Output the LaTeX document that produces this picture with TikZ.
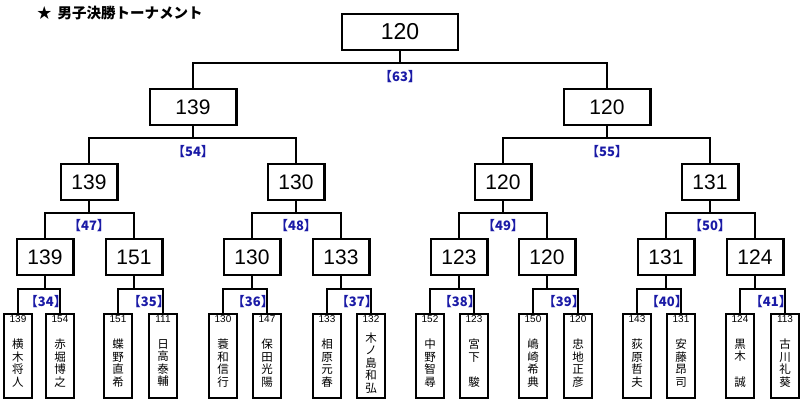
\documentclass[tikz,border=0pt]{standalone}
\usepackage{fontspec}
\setmainfont{Liberation Sans}
\newfontfamily\jpfont{Noto Sans CJK JP}
\usetikzlibrary{positioning}
\definecolor{matchblue}{HTML}{1A1AA6}

\begin{document}
\begin{tikzpicture}[x=1pt,y=-1pt,
  rbox/.style={rectangle,draw=black,line width=2.2pt,minimum height=35.8pt,inner sep=0pt,font=\fontsize{21}{23}\selectfont},
  pbox/.style={rectangle,draw=black,line width=2.2pt,minimum width=27.8pt,minimum height=84pt,inner sep=0pt},
  pnum/.style={inner sep=0pt,font=\fontsize{10}{10}\selectfont},
  pname/.style={align=center,inner sep=0pt,yshift=-7pt,font=\jpfont\fontsize{11.5}{12.6}\selectfont},
  mno/.style={inner sep=0pt,text=matchblue,font=\jpfont\bfseries\fontsize{13}{13}\selectfont},
  wire/.style={line width=1.7pt}]
\useasboundingbox (0,0) rectangle (800,402);
% \draw[help lines,step=50] (0,0) grid (800,402);
\node (title) [anchor=west,inner sep=0pt,font=\jpfont\bfseries\fontsize{14.5}{14.5}\selectfont] at (37,13.5) {★\hspace{6pt}男子決勝トーナメント};
%
\node (f) [rbox,minimum width=115.8pt,font=\fontsize{23}{25}\selectfont] at (400,32) {120};
\node (a1) [rbox,minimum width=86.8pt] at (193,107) {139};
\node (a2) [rbox,minimum width=86.8pt] at (607,107) {120};
\node (b1) [rbox,minimum width=56.8pt] at (89,182) {139};
\node (b2) [rbox,minimum width=56.8pt] at (296,182) {130};
\node (b3) [rbox,minimum width=56.8pt] at (503,182) {120};
\node (b4) [rbox,minimum width=56.8pt] at (710,182) {131};
\node (c1) [rbox,minimum width=56.8pt] at (45,257) {139};
\node (c2) [rbox,minimum width=56.8pt] at (134,257) {151};
\node (c3) [rbox,minimum width=56.8pt] at (252,257) {130};
\node (c4) [rbox,minimum width=56.8pt] at (341,257) {133};
\node (c5) [rbox,minimum width=56.8pt] at (459,257) {123};
\node (c6) [rbox,minimum width=56.8pt] at (547,257) {120};
\node (c7) [rbox,minimum width=56.8pt] at (666,257) {131};
\node (c8) [rbox,minimum width=56.8pt] at (755,257) {124};
%
\node (p1) [pbox] at (18,356) {};
\node (p2) [pbox] at (60,356) {};
\node (p3) [pbox] at (118,356) {};
\node (p4) [pbox] at (163,356) {};
\node (p5) [pbox] at (223,356) {};
\node (p6) [pbox] at (267,356) {};
\node (p7) [pbox] at (327,356) {};
\node (p8) [pbox] at (371,356) {};
\node (p9) [pbox] at (430,356) {};
\node (p10) [pbox] at (474,356) {};
\node (p11) [pbox] at (533,356) {};
\node (p12) [pbox] at (578,356) {};
\node (p13) [pbox] at (637,356) {};
\node (p14) [pbox] at (681,356) {};
\node (p15) [pbox] at (740,356) {};
\node (p16) [pbox] at (785,356) {};
%
\node (n1) [pnum,below=2.5pt of p1.north] {139};
\node (n2) [pnum,below=2.5pt of p2.north] {154};
\node (n3) [pnum,below=2.5pt of p3.north] {151};
\node (n4) [pnum,below=2.5pt of p4.north] {111};
\node (n5) [pnum,below=2.5pt of p5.north] {130};
\node (n6) [pnum,below=2.5pt of p6.north] {147};
\node (n7) [pnum,below=2.5pt of p7.north] {133};
\node (n8) [pnum,below=2.5pt of p8.north] {132};
\node (n9) [pnum,below=2.5pt of p9.north] {152};
\node (n10) [pnum,below=2.5pt of p10.north] {123};
\node (n11) [pnum,below=2.5pt of p11.north] {150};
\node (n12) [pnum,below=2.5pt of p12.north] {120};
\node (n13) [pnum,below=2.5pt of p13.north] {143};
\node (n14) [pnum,below=2.5pt of p14.north] {131};
\node (n15) [pnum,below=2.5pt of p15.north] {124};
\node (n16) [pnum,below=2.5pt of p16.north] {113};
%
\node (m1) [pname] at (p1) {横\\木\\将\\人};
\node (m2) [pname] at (p2) {赤\\堀\\博\\之};
\node (m3) [pname] at (p3) {蝶\\野\\直\\希};
\node (m4) [pname] at (p4) {日\\高\\泰\\輔};
\node (m5) [pname] at (p5) {蓑\\和\\信\\行};
\node (m6) [pname] at (p6) {保\\田\\光\\陽};
\node (m7) [pname] at (p7) {相\\原\\元\\春};
\node (m8) [pname] at (p8) {木\\ノ\\島\\和\\弘};
\node (m9) [pname] at (p9) {中\\野\\智\\尋};
\node (m10) [pname] at (p10) {宮\\下\\　\\駿};
\node (m11) [pname] at (p11) {嶋\\崎\\希\\典};
\node (m12) [pname] at (p12) {忠\\地\\正\\彦};
\node (m13) [pname] at (p13) {荻\\原\\哲\\夫};
\node (m14) [pname] at (p14) {安\\藤\\昂\\司};
\node (m15) [pname] at (p15) {黒\\木\\　\\誠};
\node (m16) [pname] at (p16) {古\\川\\礼\\葵};
%
\coordinate (j63) at (400,63);
\coordinate (j54) at (193,138);
\coordinate (j55) at (607,138);
\coordinate (j47) at (89,213);
\coordinate (j48) at (296,213);
\coordinate (j49) at (503,213);
\coordinate (j50) at (710,213);
\coordinate (j34) at (45,289);
\coordinate (j35) at (134,289);
\coordinate (j36) at (252,289);
\coordinate (j37) at (341,289);
\coordinate (j38) at (459,289);
\coordinate (j39) at (547,289);
\coordinate (j40) at (666,289);
\coordinate (j41) at (755,289);
%
\draw[wire] (f.south) -- (j63);
\draw[wire] (a1.north) |- (j63) -| (a2.north);
\draw[wire] (a1.south) -- (j54);
\draw[wire] (b1.north) |- (j54) -| (b2.north);
\draw[wire] (a2.south) -- (j55);
\draw[wire] (b3.north) |- (j55) -| (b4.north);
\draw[wire] (b1.south) -- (j47);
\draw[wire] (c1.north) |- (j47) -| (c2.north);
\draw[wire] (b2.south) -- (j48);
\draw[wire] (c3.north) |- (j48) -| (c4.north);
\draw[wire] (b3.south) -- (j49);
\draw[wire] (c5.north) |- (j49) -| (c6.north);
\draw[wire] (b4.south) -- (j50);
\draw[wire] (c7.north) |- (j50) -| (c8.north);
\draw[wire] (c1.south) -- (j34);
\draw[wire] (p1.north) |- (j34) -| (p2.north);
\draw[wire] (c2.south) -- (j35);
\draw[wire] (p3.north) |- (j35) -| (p4.north);
\draw[wire] (c3.south) -- (j36);
\draw[wire] (p5.north) |- (j36) -| (p6.north);
\draw[wire] (c4.south) -- (j37);
\draw[wire] (p7.north) |- (j37) -| (p8.north);
\draw[wire] (c5.south) -- (j38);
\draw[wire] (p9.north) |- (j38) -| (p10.north);
\draw[wire] (c6.south) -- (j39);
\draw[wire] (p11.north) |- (j39) -| (p12.north);
\draw[wire] (c7.south) -- (j40);
\draw[wire] (p13.north) |- (j40) -| (p14.north);
\draw[wire] (c8.south) -- (j41);
\draw[wire] (p15.north) |- (j41) -| (p16.north);
%
\node (l63) [mno] at (400,77) {【63】};
\node (l54) [mno] at (193,152) {【54】};
\node (l55) [mno] at (607,152) {【55】};
\node (l47) [mno] at (89,226) {【47】};
\node (l48) [mno] at (296,226) {【48】};
\node (l49) [mno] at (503,226) {【49】};
\node (l50) [mno] at (710,226) {【50】};
\node (l34) [mno,anchor=east] at (67,302) {【34】};
\node (l35) [mno,anchor=east] at (170,302) {【35】};
\node (l36) [mno,anchor=east] at (274,302) {【36】};
\node (l37) [mno,anchor=east] at (378,302) {【37】};
\node (l38) [mno,anchor=east] at (481,302) {【38】};
\node (l39) [mno,anchor=east] at (585,302) {【39】};
\node (l40) [mno,anchor=east] at (688,302) {【40】};
\node (l41) [mno,anchor=east] at (792,302) {【41】};
\end{tikzpicture}
\end{document}
